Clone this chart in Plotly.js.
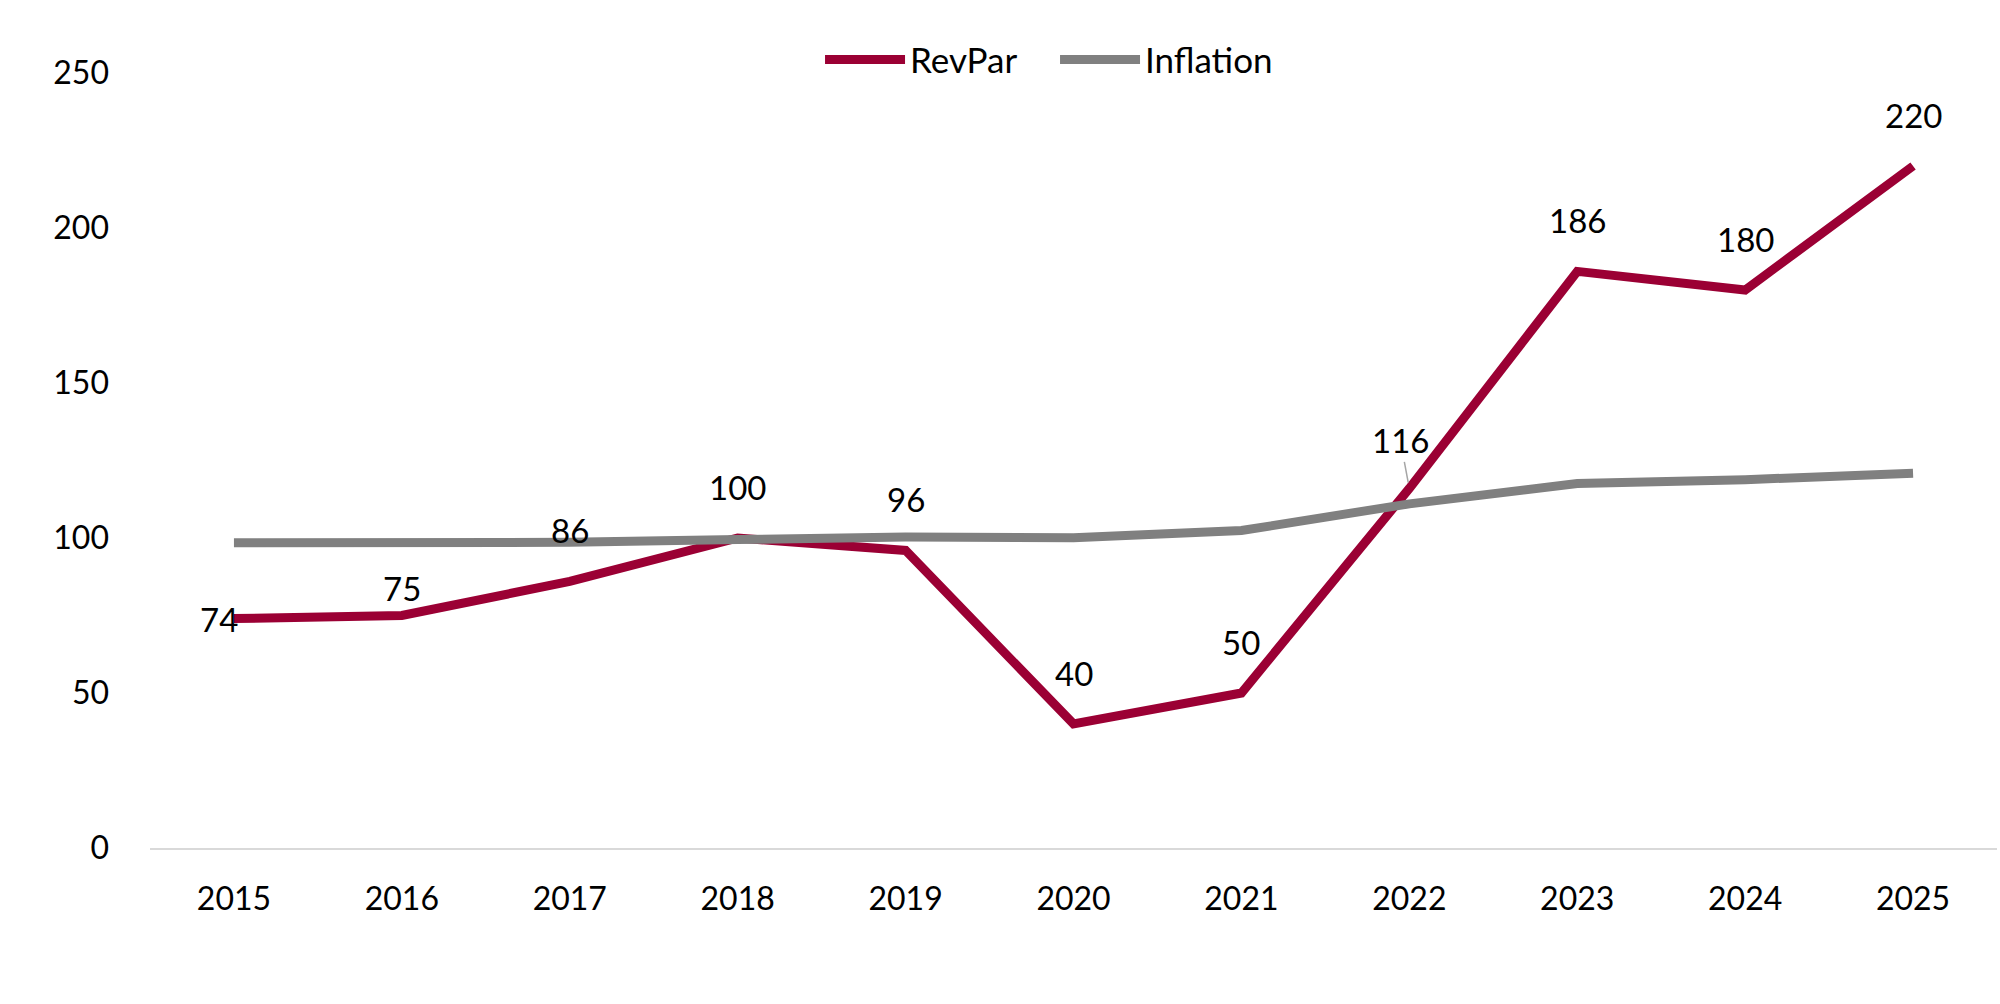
<!DOCTYPE html>
<html>
<head>
<meta charset="utf-8">
<script src="https://cdn.plot.ly/plotly-3.0.1.min.js"></script>
<style>html,body{margin:0;padding:0;background:#fff;}#chart{width:2000px;height:1004px;}</style>
</head>
<body>
<div id="chart"></div>
<script>
const years = ['2015','2016','2017','2018','2019','2020','2021','2022','2023','2024','2025'];
const revpar = [74, 75, 86, 100, 96, 40, 50, 116, 186, 180, 220];
const inflation = [98.5, 98.5, 98.6, 99.5, 100.3, 100.1, 102.4, 111, 117.6, 118.8, 120.9];
// label offsets (px) for the RevPar value labels
const labelDx = [-15, 0, 0, 0, 0, 0, 0, -9, 0, 0, 0];
const labelDy = [0, 28, 51, 51, 51, 51, 51, 48, 51, 51, 51];

const FONT = 'Lato, "Noto Sans", sans-serif';

const traces = [
  {x: years, y: revpar, name: 'RevPar', type: 'scatter', mode: 'lines',
   line: {color: '#9b0034', width: 9}},
  {x: years, y: inflation, name: 'Inflation', type: 'scatter', mode: 'lines',
   line: {color: '#808080', width: 9}}
];

// on a category axis, annotation x is the category's index
const annotations = years.map((yr, i) => {
  if (i === 7) {
    return {x: i, y: revpar[i], xref: 'x', yref: 'y', text: String(revpar[i]), showarrow: true,
      arrowhead: 0, arrowwidth: 1.5, arrowcolor: '#a6a6a6', ax: labelDx[i], ay: -labelDy[i],
      standoff: 6, font: {family: FONT, size: 33, color: '#000'}};
  }
  return {x: i, y: revpar[i], xref: 'x', yref: 'y', text: String(revpar[i]), showarrow: false,
    xshift: labelDx[i], yshift: labelDy[i],
    font: {family: FONT, size: 33, color: '#000'}};
});

const layout = {
  width: 2000, height: 1004,
  margin: {l: 150, r: 3, t: 73, b: 156},
  paper_bgcolor: '#fff', plot_bgcolor: '#fff',
  font: {family: FONT, size: 32, color: '#000'},
  showlegend: true,
  legend: {orientation: 'h', x: 0.49, xanchor: 'center', y: 1.017, yanchor: 'middle',
    itemwidth: 80, entrywidth: 140, entrywidthmode: 'pixels',
    font: {family: FONT, size: 35, color: '#000'}, bgcolor: 'rgba(0,0,0,0)'},
  xaxis: {type: 'category', range: [-0.5, 10.5], showgrid: false, zeroline: false,
    showline: true, linecolor: '#d9d9d9', linewidth: 2, ticks: '', ticklabelstandoff: 22,
    tickfont: {family: FONT, size: 32, color: '#000'}},
  yaxis: {range: [0, 250], dtick: 50, showgrid: false, zeroline: false, showline: false,
    ticks: '', ticklabelstandoff: 40, tickfont: {family: FONT, size: 32, color: '#000'}},
  annotations: annotations
};

Plotly.newPlot('chart', traces, layout, {displayModeBar: false, staticPlot: true});
</script>
</body>
</html>
